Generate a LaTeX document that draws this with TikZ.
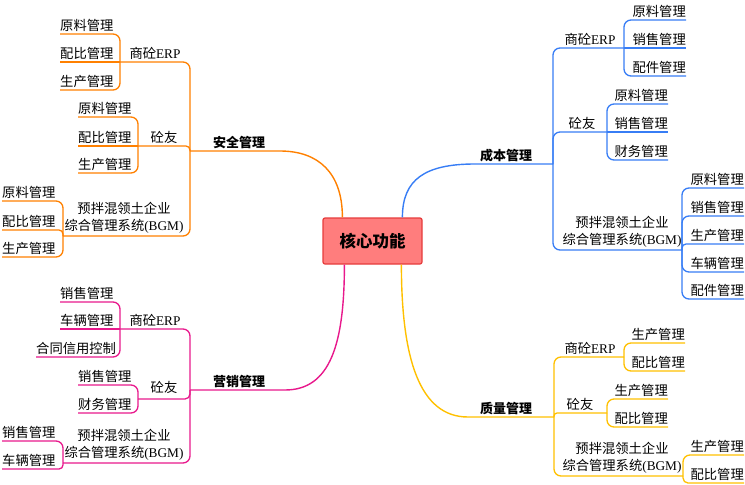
\documentclass[tikz,border=0pt]{standalone}
\usepackage{fontspec}
\setmainfont{Liberation Serif}
\newfontfamily\cjk{Noto Sans CJK SC}
\definecolor{corange}{RGB}{255,128,0}
\definecolor{cblue}{RGB}{55,125,245}
\definecolor{cpink}{RGB}{232,25,140}
\definecolor{cyellow}{RGB}{255,192,0}
\definecolor{corefill}{RGB}{255,125,125}
\definecolor{coreline}{RGB}{230,60,60}
\tikzset{
  leaf/.style={font=\cjk\fontsize{13.3}{17}\selectfont, inner xsep=0pt, inner ysep=2.3pt, text=black},
  lL/.style={leaf, anchor=south west},
  lR/.style={leaf, anchor=south east},
  mid/.style={leaf, anchor=south, align=center},
  mainlab/.style={mid, font=\cjk\bfseries\fontsize{13}{17}\selectfont, text=black},
  br/.style={line width=1.3pt, rounded corners=7pt},
  mbr/.style={line width=1.4pt},
}
\begin{document}
\begin{tikzpicture}[x=1pt,y=-1pt]
\useasboundingbox (0,0) rectangle (745,485);
% core
\node[draw=coreline, fill=corefill, line width=1.2pt, rounded corners=2pt, minimum width=99pt, minimum height=46pt,
  font=\cjk\bfseries\fontsize{16.5}{18}\selectfont] (core) at (372.5,241) {核心功能};

% ================= orange: 安全管理 =================
\coordinate (oJ) at (190,151);
\node[mainlab] (oM) at (239,151) {安全管理};
\draw[corange, mbr] ([xshift=20pt]core.north west) .. controls +(0,-45) and (318,151) .. (280,151) -- (oJ);
\coordinate (oE) at (120,62);
\coordinate (oT) at (138,146);
\coordinate (oB) at (63,236);
\node[mid] (oEl) at (155,62) {商砼{\rmfamily ERP}};
\node[mid] (oTl) at (164,146) {砼友};
\node[mid] (oBl) at (124,236) {预拌混领土企业\\综合管理系统{\rmfamily (BGM)}};
\draw[corange, br] (oJ) |- (oE);
\draw[corange, br, rounded corners=4pt] (oJ) |- (oT);
\draw[corange, br] (oJ) |- (oB);
\node[lL] (oE1) at (60,34) {原料管理};
\node[lL] (oE2) at (60,62) {配比管理};
\node[lL] (oE3) at (60,90) {生产管理};
\draw[corange, br] (oE) |- (oE1.south west);
\draw[corange, br] (oE) -- (oE2.south west);
\draw[corange, br] (oE) |- (oE3.south west);
\node[lL] (oT1) at (78,117) {原料管理};
\node[lL] (oT2) at (78,146) {配比管理};
\node[lL] (oT3) at (78,173) {生产管理};
\draw[corange, br] (oT) |- (oT1.south west);
\draw[corange, br] (oT) -- (oT2.south west);
\draw[corange, br] (oT) |- (oT3.south west);
\node[lL] (oB1) at (2,201) {原料管理};
\node[lL] (oB2) at (2,230) {配比管理};
\node[lL] (oB3) at (2,257) {生产管理};
\draw[corange, br] (oB) |- (oB1.south west);
\draw[corange, br, rounded corners=4pt] (oB) |- (oB2.south west);
\draw[corange, br] (oB) |- (oB3.south west);

% ================= pink: 营销管理 =================
\coordinate (pJ) at (190,390);
\node[mainlab] (pM) at (239,390) {营销管理};
\draw[cpink, mbr] ([xshift=22pt]core.south west) .. controls +(0,80) and (330,390) .. (285,390) -- (pJ);
\coordinate (pE) at (120,329);
\coordinate (pT) at (138,399);
\coordinate (pB) at (63,463);
\node[mid] (pEl) at (155,329) {商砼{\rmfamily ERP}};
\node[mid] (pTl) at (164,396) {砼友};
\node[mid] (pBl) at (124,463) {预拌混领土企业\\综合管理系统{\rmfamily (BGM)}};
\draw[cpink, br] (pJ) |- (pE);
\draw[cpink, br, rounded corners=5pt] (pJ) |- (pT);
\draw[cpink, br] (pJ) |- (pB);
\node[lL] (pE1) at (60,302) {销售管理};
\node[lL] (pE2) at (60,329) {车辆管理};
\node[lL] (pE3) at (36,357) {合同信用控制};
\draw[cpink, br] (pE) |- (pE1.south west);
\draw[cpink, br] (pE) -- (pE2.south west);
\draw[cpink, br] (pE) |- (pE3.south west);
\node[lL] (pT1) at (78,385) {销售管理};
\node[lL] (pT2) at (78,413) {财务管理};
\draw[cpink, br] (pT) |- (pT1.south west);
\draw[cpink, br] (pT) |- (pT2.south west);
\node[lL] (pB1) at (2,441) {销售管理};
\node[lL] (pB2) at (2,469) {车辆管理};
\draw[cpink, br] (pB) |- (pB1.south west);
\draw[cpink, br, rounded corners=4pt] (pB) |- (pB2.south west);

% ================= blue: 成本管理 =================
\coordinate (bJ) at (553,164);
\node[mainlab] (bM) at (506,164) {成本管理};
\draw[cblue, mbr] ([xshift=80pt]core.north west) .. controls +(0,-38) and (425,164) .. (475,164) -- (bJ);
\coordinate (bE) at (624,48);
\coordinate (bT) at (607,132);
\coordinate (bB) at (682,250);
\node[mid] (bEl) at (590,48) {商砼{\rmfamily ERP}};
\node[mid] (bTl) at (582,132) {砼友};
\node[mid] (bBl) at (622,250) {预拌混领土企业\\综合管理系统{\rmfamily (BGM)}};
\draw[cblue, br] (bJ) |- (bE);
\draw[cblue, br] (bJ) |- (bT);
\draw[cblue, br] (bJ) |- (bB);
\node[lR] (bE1) at (686,20) {原料管理};
\node[lR] (bE2) at (686,48) {销售管理};
\node[lR] (bE3) at (686,76) {配件管理};
\draw[cblue, br] (bE) |- (bE1.south east);
\draw[cblue, br] (bE) -- (bE2.south east);
\draw[cblue, br] (bE) |- (bE3.south east);
\node[lR] (bT1) at (668,104) {原料管理};
\node[lR] (bT2) at (668,132) {销售管理};
\node[lR] (bT3) at (668,160) {财务管理};
\draw[cblue, br] (bT) |- (bT1.south east);
\draw[cblue, br] (bT) -- (bT2.south east);
\draw[cblue, br] (bT) |- (bT3.south east);
\node[lR] (bB1) at (744,188) {原料管理};
\node[lR] (bB2) at (744,216) {销售管理};
\node[lR] (bB3) at (744,244) {生产管理};
\node[lR] (bB4) at (744,272) {车辆管理};
\node[lR] (bB5) at (744,299) {配件管理};
\draw[cblue, br] (bB) |- (bB1.south east);
\draw[cblue, br] (bB) |- (bB2.south east);
\draw[cblue, br, rounded corners=4pt] (bB) |- (bB3.south east);
\draw[cblue, br] (bB) |- (bB4.south east);
\draw[cblue, br] (bB) |- (bB5.south east);

% ================= yellow: 质量管理 =================
\coordinate (yJ) at (554,417);
\node[mainlab] (yM) at (506,417) {质量管理};
\draw[cyellow, mbr] ([xshift=79pt]core.south west) .. controls +(0,95) and (420,417) .. (468,417) -- (yJ);
\coordinate (yE) at (624,357);
\coordinate (yT) at (607,413);
\coordinate (yB) at (683,476);
\node[mid] (yEl) at (590,357) {商砼{\rmfamily ERP}};
\node[mid] (yTl) at (580,413) {砼友};
\node[mid] (yBl) at (622,476) {预拌混领土企业\\综合管理系统{\rmfamily (BGM)}};
\draw[cyellow, br] (yJ) |- (yE);
\draw[cyellow, br, rounded corners=3pt] (yJ) |- (yT);
\draw[cyellow, br] (yJ) |- (yB);
\node[lR] (yE1) at (685,343) {生产管理};
\node[lR] (yE2) at (685,371) {配比管理};
\draw[cyellow, br] (yE) |- (yE1.south east);
\draw[cyellow, br] (yE) |- (yE2.south east);
\node[lR] (yT1) at (668,399) {生产管理};
\node[lR] (yT2) at (668,427) {配比管理};
\draw[cyellow, br] (yT) |- (yT1.south east);
\draw[cyellow, br] (yT) |- (yT2.south east);
\node[lR] (yB1) at (744,455) {生产管理};
\node[lR] (yB2) at (744,483) {配比管理};
\draw[cyellow, br] (yB) |- (yB1.south east);
\draw[cyellow, br, rounded corners=5pt] (yB) |- (yB2.south east);
\end{tikzpicture}
\end{document}
